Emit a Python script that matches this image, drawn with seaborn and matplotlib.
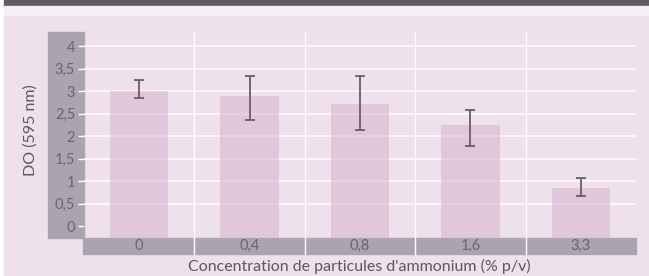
import matplotlib
matplotlib.use("Agg")
import matplotlib.pyplot as plt
from matplotlib.patches import Rectangle
import seaborn as sns
import pandas as pd
import numpy as np

# Data
categories = ["0", "0,4", "0,8", "1,6", "3,3"]
values = [3.00, 2.89, 2.71, 2.245, 0.86]
err_low = [0.14, 0.53, 0.57, 0.465, 0.18]
err_high = [0.25, 0.45, 0.63, 0.335, 0.21]
yticks = [0, 0.5, 1, 1.5, 2, 2.5, 3, 3.5, 4]
ytick_labels = ["0", "0,5", "1", "1,5", "2", "2,5", "3", "3,5", "4"]
xlabel = "Concentration de particules d'ammonium (% p/v)"
ylabel = "DO (595 nm)"

sns.set_theme(style="white")
plt.rcParams["font.family"] = ["Lato", "DejaVu Sans"]

W, H = 649, 276
fig = plt.figure(figsize=(W / 100, H / 100), dpi=100)
fig.patch.set_facecolor("white")

BG = "#efe1eb"
BAND = "#a9a4b0"
TXT = "#6a6470"
LAB = "#5d575f"

def px(x0, y0, x1, y1):
    return (x0 / W, 1 - y1 / H, (x1 - x0) / W, (y1 - y0) / H)

# panel background and header bands
x0, y0, w, h = px(4, 15, 649, 276)
fig.add_artist(Rectangle((x0, y0), w, h, transform=fig.transFigure, color=BG, zorder=-10))
x0, y0, w, h = px(4, 0, 649, 6.5)
fig.add_artist(Rectangle((x0, y0), w, h, transform=fig.transFigure, color="#615a62", zorder=-10))
x0, y0, w, h = px(4, 6.5, 649, 15)
fig.add_artist(Rectangle((x0, y0), w, h, transform=fig.transFigure, color="#f5f0f3", zorder=-10))
# axis bands
x0, y0, w, h = px(48, 32, 84, 237.5)
fig.add_artist(Rectangle((x0, y0), w, h, transform=fig.transFigure, color=BAND, zorder=-5))
x0, y0, w, h = px(83, 238, 636, 254)
fig.add_artist(Rectangle((x0, y0), w, h, transform=fig.transFigure, color=BAND, zorder=-5))

ax = fig.add_axes(px(84, 32, 636, 237.5))
ax.set_facecolor("none")

df = pd.DataFrame({"cat": categories, "val": values})
sns.barplot(data=df, x="cat", y="val", order=categories, color="#d9b7d2",
            width=0.53, errorbar=None, ax=ax, zorder=2, saturation=1)

ymin = -0.25
for p in ax.patches:
    p.set_alpha(0.6)
    hgt = p.get_height()
    p.set_y(ymin)
    p.set_height(hgt - ymin)
    p.set_edgecolor("none")

xpos = np.arange(len(categories))
ax.errorbar(xpos, values, yerr=[err_low, err_high], fmt="none", ecolor="#675d68",
            elinewidth=1.3, capsize=3.3, capthick=1.3, zorder=4)

ax.set_ylim(ymin, 4.32)
ax.set_xlim(-0.5, len(categories) - 0.5)
for yv in yticks[1:]:
    ax.axhline(yv, color="white", lw=1.1, zorder=1)
for xv in np.arange(0.5, len(categories) - 0.5, 1):
    ax.axvline(xv, ymin=-0.083, ymax=1, color="white", lw=1.0, zorder=1, clip_on=False)

ax.set_yticks(yticks)
ax.set_yticklabels(ytick_labels)
ax.set_xticks(xpos)
ax.set_xticklabels(categories)
ax.tick_params(axis="y", length=4.3, width=1, color="white", pad=2, labelsize=10.5, labelcolor=TXT, left=True)
ax.tick_params(axis="x", length=0, pad=1.2, labelsize=10.5, labelcolor=TXT)
for s in ax.spines.values():
    s.set_visible(False)
ax.set_xlabel("")
ax.set_ylabel("")

fig.text(31 / W, 1 - 130 / H, ylabel, rotation=90, ha="center", va="center", fontsize=11.5, color=LAB)
fig.text(359.5 / W, 1 - 266 / H, xlabel, ha="center", va="center", fontsize=11.5, color=LAB)

fig.savefig("out.png", dpi=100)
